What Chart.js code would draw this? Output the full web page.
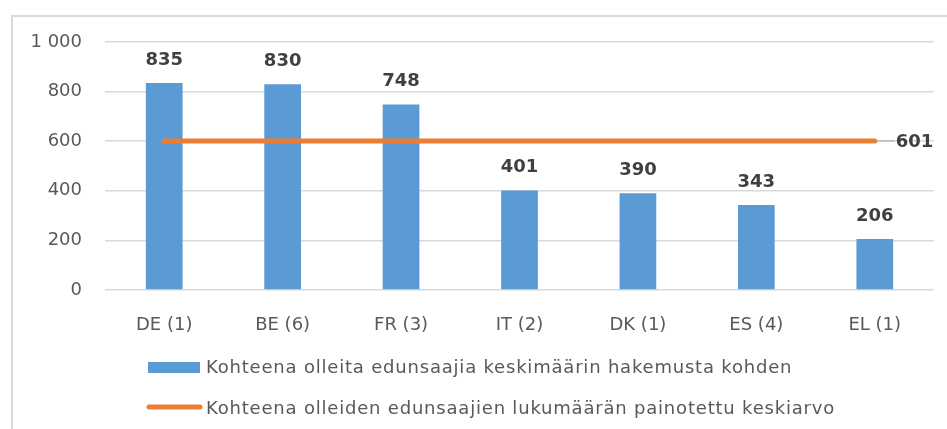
<!DOCTYPE html>
<html>
<head>
<meta charset="utf-8">
<script src="https://cdn.jsdelivr.net/npm/chart.js@4"></script>
<style>
    html, body { margin: 0; padding: 0; background: #fff; }
    #wrap { position: relative; width: 947px; height: 429px; }
</style>
</head>
<body>
<div id="wrap"><canvas id="chart" width="947" height="429"></canvas></div>
<script>
// Chart data
const categories = ['DE (1)', 'BE (6)', 'FR (3)', 'IT (2)', 'DK (1)', 'ES (4)', 'EL (1)'];
const barValues = [835, 830, 748, 401, 390, 343, 206];
const avgValues = [601, 601, 601, 601, 601, 601, 601];
const barLabel = 'Kohteena olleita edunsaajia keskimäärin hakemusta kohden';
const lineLabel = 'Kohteena olleiden edunsaajien lukumäärän painotettu keskiarvo';

const AXIS_FONT = '"DejaVu Sans", sans-serif';
const BLUE = '#5B9BD5';
const ORANGE = '#ED7D31';
const GREY_TEXT = '#595959';

// Frame, data labels and legend
const decorPlugin = {
    id: 'decor',
    afterDraw(chart) {
        const ctx = chart.ctx;
        ctx.save();

        // outer frame (top and left edges only)
        ctx.strokeStyle = '#D9D9D9';
        ctx.lineWidth = 2;
        ctx.beginPath();
        ctx.moveTo(12, 429);
        ctx.lineTo(12, 16);
        ctx.lineTo(947, 16);
        ctx.stroke();

        // bar value labels (dataset 1 = bars)
        ctx.font = 'bold 18px ' + AXIS_FONT;
        ctx.fillStyle = '#404040';
        ctx.textAlign = 'center';
        ctx.textBaseline = 'middle';
        chart.getDatasetMeta(1).data.forEach((bar, i) => {
            ctx.fillText(barValues[i], bar.x, bar.y - 23);
        });

        // label for the average line (dataset 0 = line)
        const pts = chart.getDatasetMeta(0).data;
        const last = pts[pts.length - 1];
        ctx.strokeStyle = '#A6A6A6';
        ctx.lineWidth = 1;
        ctx.beginPath();
        ctx.moveTo(last.x, last.y);
        ctx.lineTo(last.x + 20, last.y);
        ctx.stroke();
        ctx.textAlign = 'left';
        ctx.fillText(avgValues[avgValues.length - 1], last.x + 21, last.y + 1);

        // legend
        ctx.fillStyle = BLUE;
        ctx.fillRect(148, 362, 52, 11);
        ctx.strokeStyle = ORANGE;
        ctx.lineWidth = 5;
        ctx.lineCap = 'round';
        ctx.beginPath();
        ctx.moveTo(149, 407);
        ctx.lineTo(200, 407);
        ctx.stroke();
        ctx.font = '18px ' + AXIS_FONT;
        ctx.letterSpacing = '0.8px';
        ctx.fillStyle = GREY_TEXT;
        ctx.fillText(barLabel, 206, 368);
        ctx.fillText(lineLabel, 206, 409);

        ctx.restore();
    }
};

new Chart(document.getElementById('chart').getContext('2d'), {
    data: {
        labels: categories,
        datasets: [
            {
                type: 'line',
                label: lineLabel,
                data: avgValues,
                borderColor: ORANGE,
                borderWidth: 5,
                borderCapStyle: 'round',
                pointRadius: 0,
                fill: false,
                order: 0
            },
            {
                type: 'bar',
                label: barLabel,
                data: barValues,
                backgroundColor: BLUE,
                barPercentage: 0.31,
                categoryPercentage: 1,
                order: 1
            }
        ]
    },
    options: {
        responsive: false,
        animation: false,
        layout: { padding: { top: 42, right: 13, left: 0, bottom: 0 } },
        plugins: {
            legend: { display: false },
            tooltip: { enabled: false }
        },
        scales: {
            x: {
                grid: { display: false },
                border: { display: false },
                ticks: { color: GREY_TEXT, font: { family: AXIS_FONT, size: 18 }, padding: 17 },
                afterFit(s) { s.height = 139; }
            },
            y: {
                min: 0,
                max: 1000,
                grid: { color: '#D9D9D9', lineWidth: 1.5, drawTicks: false },
                border: { display: false },
                ticks: {
                    stepSize: 200,
                    padding: 23,
                    color: GREY_TEXT,
                    font: { family: AXIS_FONT, size: 18 },
                    callback: v => String(v).replace(/\B(?=(\d{3})+(?!\d))/g, ' ')
                },
                afterFit(s) { s.width = 105; }
            }
        }
    },
    plugins: [decorPlugin]
});
</script>
</body>
</html>
